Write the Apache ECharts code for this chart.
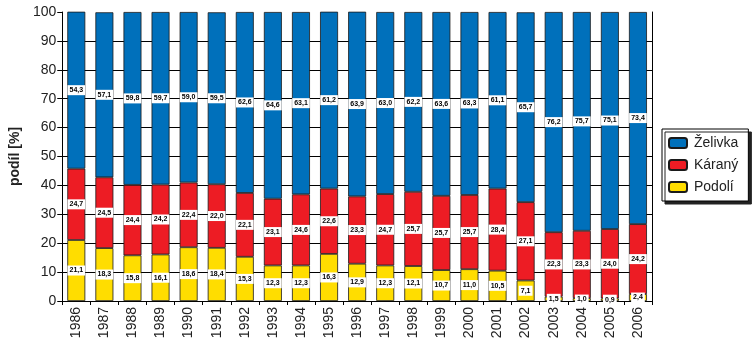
<!DOCTYPE html>
<html>
<head>
<meta charset="utf-8">
<script src="https://cdn.jsdelivr.net/npm/echarts@6/dist/echarts.min.js"></script>
<style>
  html, body { margin: 0; padding: 0; background: #fff; }
  #chart { width: 754px; height: 348px; }
</style>
</head>
<body>
<div id="chart"></div>
<script>
// Years on the category axis
const years = ['1986','1987','1988','1989','1990','1991','1992','1993','1994','1995','1996','1997','1998','1999','2000','2001','2002','2003','2004','2005','2006'];

// Share of each source [%]
const podoli  = [21.1,18.3,15.8,16.1,18.6,18.4,15.3,12.3,12.3,16.3,12.9,12.3,12.1,10.7,11.0,10.5,7.1,1.5,1.0,0.9,2.4];
const karany  = [24.7,24.5,24.4,24.2,22.4,22.0,22.1,23.1,24.6,22.6,23.3,24.7,25.7,25.7,25.7,28.4,27.1,22.3,23.3,24.0,24.2];
const zelivka = [54.3,57.1,59.8,59.7,59.0,59.5,62.6,64.6,63.1,61.2,63.9,63.0,62.2,63.6,63.3,61.1,65.7,76.2,75.7,75.1,73.4];

const yTicks = [0,10,20,30,40,50,60,70,80,90,100];

const FONT = 'Liberation Sans, Arial, sans-serif';

const valueLabel = {
  show: true,
  position: 'inside',
  formatter: p => p.value.toFixed(1).replace('.', ','),
  fontFamily: FONT,
  fontSize: 7,
  fontWeight: 'bold',
  color: '#000',
  backgroundColor: '#fff',
  padding: [2, 2, 1, 2]
};

function bar(name, data, color) {
  return {
    name: name,
    type: 'bar',
    stack: 'total',
    data: data,
    barCategoryGap: '36%',
    itemStyle: { color: color, borderColor: '#1a1a1a', borderWidth: 0.8 },
    label: valueLabel,
    emphasis: { disabled: true }
  };
}

const chart = echarts.init(document.getElementById('chart'), null, { renderer: 'canvas' });
chart.setOption({
  animation: false,
  backgroundColor: '#fff',
  textStyle: { fontFamily: FONT },
  grid: { left: 55, right: 102, top: 12, bottom: 47 },
  legend: {
    orient: 'vertical',
    left: 662,
    top: 129,
    data: ['Želivka', 'Káraný', 'Podolí'],
    itemWidth: 18,
    itemHeight: 10,
    itemGap: 8,
    padding: [7, 10, 7, 6],
    backgroundColor: '#fff',
    borderColor: '#000',
    borderWidth: 1,
    shadowColor: '#222',
    shadowBlur: 0,
    shadowOffsetX: 3,
    shadowOffsetY: 3,
    textStyle: { fontFamily: FONT, fontSize: 14, color: '#222', padding: [0, 0, 0, 2] },
    selectedMode: false
  },
  xAxis: {
    type: 'category',
    data: years,
    axisLine: { lineStyle: { color: '#000', width: 1 } },
    axisTick: { show: true, length: 4, lineStyle: { color: '#000' } },
    axisLabel: {
      rotate: 90,
      fontFamily: FONT,
      fontSize: 14,
      color: '#222',
      margin: 6,
      interval: 0
    }
  },
  yAxis: [
    {
      type: 'value',
      min: 0,
      max: 100,
      interval: 10,
      name: 'podíl [%]',
      nameLocation: 'middle',
      nameGap: 30,
      nameTextStyle: { fontFamily: FONT, fontSize: 14, fontWeight: 'bold', color: '#222' },
      axisLine: { show: true, lineStyle: { color: '#000', width: 1 } },
      axisTick: { show: true, length: 5, lineStyle: { color: '#000' } },
      axisLabel: {
        fontFamily: FONT,
        fontSize: 14,
        color: '#222',
        margin: 6,
        formatter: v => (yTicks.indexOf(v) >= 0 ? String(v) : '')
      },
      splitLine: {
        show: true,
        lineStyle: {
          color: ['#000','#000','#000','#000','#000','#000','#000','#000','#000','#000','rgba(0,0,0,0)'],
          width: 1
        }
      }
    },
    {
      type: 'value',
      min: 0,
      max: 100,
      interval: 10,
      position: 'right',
      axisLine: { show: true, lineStyle: { color: '#000', width: 1 } },
      axisTick: { show: false },
      axisLabel: { show: false },
      splitLine: { show: false }
    }
  ],
  series: [
    bar('Podolí', podoli, '#FFDD00'),
    bar('Káraný', karany, '#ED1C24'),
    bar('Želivka', zelivka, '#0070BB')
  ]
});
</script>
</body>
</html>
